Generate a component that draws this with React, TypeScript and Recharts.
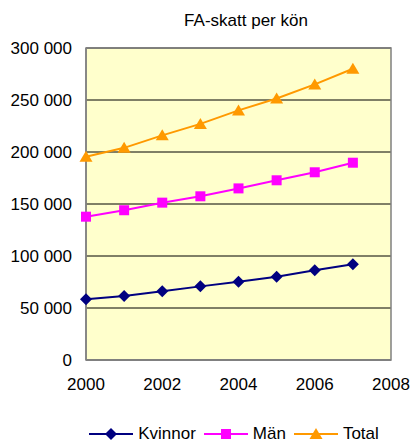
import {
  CartesianGrid,
  Legend,
  Line,
  LineChart,
  ReferenceArea,
  XAxis,
  YAxis,
} from "recharts";

const years = [2000, 2001, 2002, 2003, 2004, 2005, 2006, 2007];
const kvinnor = [58300, 61500, 66000, 70800, 75300, 80100, 86200, 92000];
const man = [137800, 144000, 151300, 157400, 165000, 172800, 180500, 189700];
const total = [195500, 204000, 216000, 227000, 240000, 251500, 265000, 280000];
const xTicks = [2000, 2002, 2004, 2006, 2008];
const yTicks = [0, 50000, 100000, 150000, 200000, 250000, 300000];

const NAVY = "#000080";
const PINK = "#FF00FF";
const ORANGE = "#FF9900";
const FONT = "'Liberation Sans', Arial, sans-serif";

const data = years.map((y, i) => ({
  year: y,
  Kvinnor: kvinnor[i],
  "Män": man[i],
  Total: total[i],
}));

const fmt = (v: number) =>
  v === 0 ? "0" : String(v).replace(/\B(?=(\d{3})+(?!\d))/g, " ");

function Marker({ kind, cx, cy, color }: any) {
  if (cx == null || cy == null) return null;
  if (kind === "diamond")
    return (
      <polygon
        points={`${cx},${cy - 6} ${cx + 6},${cy} ${cx},${cy + 6} ${cx - 6},${cy}`}
        fill={color}
      />
    );
  if (kind === "square")
    return <rect x={cx - 5} y={cy - 5} width={10} height={10} fill={color} />;
  return (
    <polygon
      points={`${cx},${cy - 6} ${cx + 6.5},${cy + 5} ${cx - 6.5},${cy + 5}`}
      fill={color}
    />
  );
}

const legendItems = [
  { name: "Kvinnor", color: NAVY, kind: "diamond" },
  { name: "Män", color: PINK, kind: "square" },
  { name: "Total", color: ORANGE, kind: "triangle" },
];

function LegendContent() {
  return (
    <div
      style={{
        display: "flex",
        justifyContent: "center",
        alignItems: "center",
        paddingLeft: 64,
        fontFamily: FONT,
        fontSize: 17,
        color: "#000",
        height: 20,
      }}
    >
      {legendItems.map((it) => (
        <div
          key={it.name}
          style={{ display: "flex", alignItems: "center", marginRight: 8 }}
        >
          <svg width={44} height={16}>
            <line x1={0} y1={8} x2={44} y2={8} stroke={it.color} strokeWidth={2} />
            <Marker kind={it.kind} cx={22} cy={8} color={it.color} />
          </svg>
          <span style={{ marginLeft: 5 }}>{it.name}</span>
        </div>
      ))}
    </div>
  );
}

export default function App() {
  return (
    <div
      style={{
        position: "absolute",
        left: 0,
        top: 0,
        width: 412,
        height: 444,
        background: "#fff",
      }}
    >
      <div
        style={{
          position: "absolute",
          left: 0,
          top: 11,
          width: 412,
          paddingLeft: 80,
          boxSizing: "border-box",
          textAlign: "center",
          fontFamily: FONT,
          fontSize: 17,
        }}
      >
        FA-skatt per kön
      </div>
      <LineChart
        width={412}
        height={444}
        data={data}
        margin={{ top: 48, right: 21, left: 6, bottom: 0 }}
      >
        <CartesianGrid
          vertical={false}
          fill="#FFFFCC"
          stroke="#000"
          strokeWidth={1}
        />
        <ReferenceArea
          x1={2000}
          x2={2008}
          y1={0}
          y2={300000}
          fill="none"
          stroke="#808080"
          strokeWidth={1.5}
        />
        <XAxis
          dataKey="year"
          type="number"
          domain={[2000, 2008]}
          ticks={xTicks}
          height={64}
          tickLine={false}
          axisLine={{ stroke: "#808080", strokeWidth: 1.5 }}
          tickMargin={12}
          tick={{ fill: "#000", fontSize: 17, fontFamily: FONT }}
        />
        <YAxis
          type="number"
          domain={[0, 300000]}
          ticks={yTicks}
          width={80}
          tickFormatter={fmt}
          tickLine={false}
          axisLine={{ stroke: "#808080", strokeWidth: 1.5 }}
          tickMargin={8}
          tick={{ fill: "#000", fontSize: 17, fontFamily: FONT }}
        />
        <Legend
          verticalAlign="bottom"
          content={<LegendContent />}
          wrapperStyle={{ left: 0, width: 412 }}
        />
        <Line
          dataKey="Kvinnor"
          stroke={NAVY}
          strokeWidth={2}
          isAnimationActive={false}
          dot={(p: any) => <Marker key={p.index} kind="diamond" cx={p.cx} cy={p.cy} color={NAVY} />}
          activeDot={false}
        />
        <Line
          dataKey="Män"
          stroke={PINK}
          strokeWidth={2}
          isAnimationActive={false}
          dot={(p: any) => <Marker key={p.index} kind="square" cx={p.cx} cy={p.cy} color={PINK} />}
          activeDot={false}
        />
        <Line
          dataKey="Total"
          stroke={ORANGE}
          strokeWidth={2}
          isAnimationActive={false}
          dot={(p: any) => <Marker key={p.index} kind="triangle" cx={p.cx} cy={p.cy} color={ORANGE} />}
          activeDot={false}
        />
      </LineChart>
    </div>
  );
}
